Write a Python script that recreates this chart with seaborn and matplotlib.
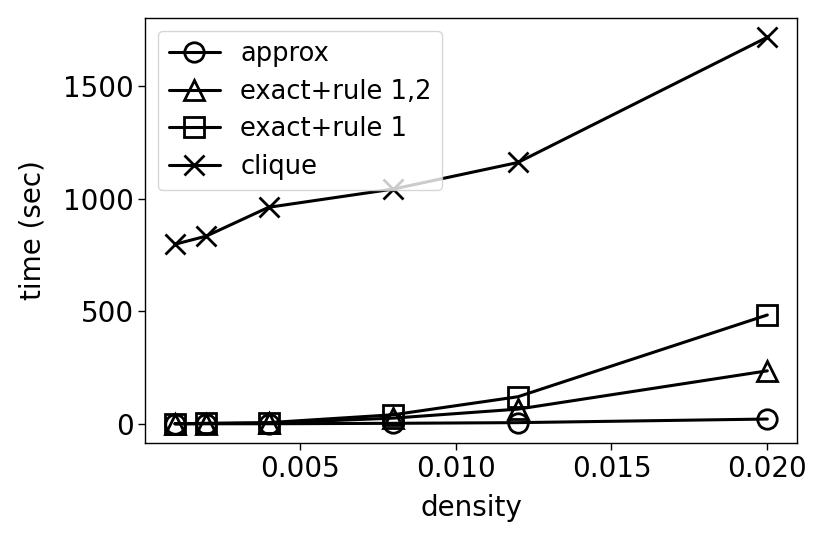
import numpy as np
import pandas as pd
import matplotlib
matplotlib.use("Agg")
import matplotlib.pyplot as plt
import seaborn as sns

# values
density = [0.001, 0.002, 0.004, 0.008, 0.012, 0.020]
approx = [0, 0, 0, 2, 5, 21]
exact_rule12 = [0, 1, 3, 25, 65, 235]
exact_rule1 = [0, 2, 5, 40, 120, 483]
clique = [797, 833, 961, 1042, 1160, 1716]

series = {
    "approx": approx,
    "exact+rule 1,2": exact_rule12,
    "exact+rule 1": exact_rule1,
    "clique": clique,
}
markers = {"approx": "o", "exact+rule 1,2": "^", "exact+rule 1": "s", "clique": "x"}

df = pd.DataFrame(
    [(d, name, v) for name, vals in series.items() for d, v in zip(density, vals)],
    columns=["density", "method", "time"],
)

sns.set_style("white")
plt.rcParams["font.family"] = ["DejaVu Sans"]
plt.rcParams["text.color"] = "black"
plt.rcParams["axes.labelcolor"] = "black"
plt.rcParams["xtick.color"] = "black"
plt.rcParams["ytick.color"] = "black"

fig, ax = plt.subplots(figsize=(8.31, 5.43), dpi=100)
for name in series:
    sub = df[df["method"] == name]
    sns.lineplot(data=sub, x="density", y="time", ax=ax, color="black",
                 linewidth=2.2, marker=markers[name], markersize=14,
                 markerfacecolor="none", markeredgecolor="black",
                 markeredgewidth=2, label=name)

ax.set_xlabel("density", fontsize=20, labelpad=8)
ax.set_ylabel("time (sec)", fontsize=20, labelpad=12)
ax.set_xticks([0.005, 0.010, 0.015, 0.020])
ax.set_yticks([0, 500, 1000, 1500])
ax.tick_params(axis="both", labelsize=20, direction="out", length=5, width=1,
               left=True, bottom=True)
for s in ax.spines.values():
    s.set_color("black")
    s.set_linewidth(1)

ax.legend(loc="upper left", fontsize=18.5, handlelength=2, framealpha=0.8,
          edgecolor="#cccccc", borderaxespad=0.5, labelspacing=0.45)

fig.subplots_adjust(left=0.175, right=0.959, top=0.967, bottom=0.184)
fig.savefig("out.png", dpi=100)
